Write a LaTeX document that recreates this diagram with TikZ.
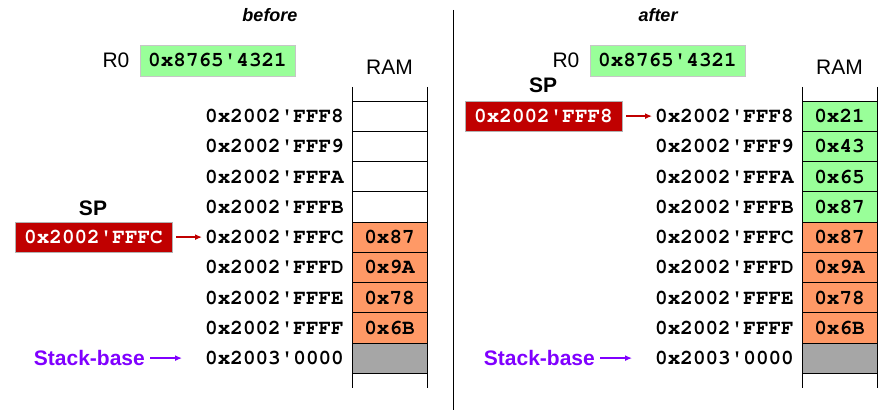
\documentclass[tikz,border=0pt]{standalone}
\usepackage[T1]{fontenc}
\usepackage{textcomp}
\usepackage{fontspec}
\setmainfont{Liberation Sans}
\usetikzlibrary{positioning,arrows.meta}

\definecolor{regGreen}{HTML}{99FF99}
\definecolor{stackOrange}{HTML}{FF9966}
\definecolor{spRed}{HTML}{C00000}
\definecolor{baseGray}{HTML}{A6A6A6}
\definecolor{basePurple}{HTML}{8000FF}

% Courier bold and a straight quote for the addresses
\newcommand{\courbf}{\fontencoding{T1}\fontfamily{pcr}\fontseries{b}\fontsize{21}{21}\selectfont}
\newcommand{\q}{\textquotesingle}

\tikzset{
  title/.style={font=\fontsize{18}{18}\selectfont\bfseries\itshape, inner sep=0pt},
  lbl/.style={font=\fontsize{21}{21}\selectfont, inner sep=0pt},
  spname/.style={font=\fontsize{21}{21}\selectfont\bfseries, inner sep=0pt},
  mono/.style={font=\courbf},
  addr/.style={mono, anchor=east, inner sep=0pt},
  reg/.style={mono, fill=regGreen, draw=gray!45, line width=0.8pt,
    minimum width=155pt, minimum height=31pt, inner sep=0pt},
  spbox/.style={mono, text=white, fill=spRed, draw=gray!60, line width=0.8pt,
    minimum width=157pt, minimum height=30pt, inner sep=0pt},
  cell/.style={mono, draw, line width=0.9pt, minimum width=75pt,
    minimum height=30.25pt, inner sep=0pt},
  base/.style={font=\fontsize{21}{21}\selectfont\bfseries, text=basePurple,
    anchor=east, inner sep=0pt},
  ptr/.style={-{Latex[length=7pt,width=6pt]}, line width=1.3pt},
}

\begin{document}
\begin{tikzpicture}[x=1pt, y=-1pt]
  \useasboundingbox (0,0) rectangle (894,417);

  % before
  \node[title] (tL) at (270,15) {before};
  \node[reg] (r0L) at (217.5,60.5) {0x8765\q4321};
  \node[lbl, left=10pt of r0L] (r0nameL) {R0};
  \node[lbl] (ramL) at (389.5,67) {RAM};
  \draw[line width=0.9pt] (352,87) -- (352,388) (427,87) -- (427,388);
  \foreach \ad/\val/\col [count=\i from 0] in {
      0x2002\q FFF8//white, 0x2002\q FFF9//white, 0x2002\q FFFA//white,
      0x2002\q FFFB//white, 0x2002\q FFFC/0x87/stackOrange,
      0x2002\q FFFD/0x9A/stackOrange, 0x2002\q FFFE/0x78/stackOrange,
      0x2002\q FFFF/0x6B/stackOrange, 0x2003\q 0000//baseGray}{
    \node[cell, fill=\col] (cL\i) at (389.5,116.1+30.25*\i) {\val};
    \node[addr] (aL\i) at (344,116.1+30.25*\i) {\ad};
  }
  \node[spname] (spnameL) at (93,208) {SP};
  \node[spbox] (spL) at (93.5,237.1) {0x2002\q FFFC};
  \draw[ptr, spRed, shorten <=4pt, shorten >=3pt] (spL) -- (aL4);
  \node[base] (sbL) at (145,358.1) {Stack-base};
  \draw[ptr, basePurple, shorten <=5pt, shorten >=23pt] (sbL) -- (aL8);

  \draw[line width=0.9pt] (453,10) -- (453,410);

  % after
  \node[title] (tR) at (658,15) {after};
  \node[reg] (r0R) at (667.5,60.5) {0x8765\q4321};
  \node[lbl, left=10pt of r0R] (r0nameR) {R0};
  \node[lbl] (ramR) at (839.5,67) {RAM};
  \draw[line width=0.9pt] (802,87) -- (802,388) (877,87) -- (877,388);
  \foreach \ad/\val/\col [count=\i from 0] in {
      0x2002\q FFF8/0x21/regGreen, 0x2002\q FFF9/0x43/regGreen,
      0x2002\q FFFA/0x65/regGreen, 0x2002\q FFFB/0x87/regGreen,
      0x2002\q FFFC/0x87/stackOrange, 0x2002\q FFFD/0x9A/stackOrange,
      0x2002\q FFFE/0x78/stackOrange, 0x2002\q FFFF/0x6B/stackOrange,
      0x2003\q 0000//baseGray}{
    \node[cell, fill=\col] (cR\i) at (839.5,116.1+30.25*\i) {\val};
    \node[addr] (aR\i) at (794,116.1+30.25*\i) {\ad};
  }
  \node[spname] (spnameR) at (543,85) {SP};
  \node[spbox] (spR) at (543.5,116.1) {0x2002\q FFF8};
  \draw[ptr, spRed, shorten <=4pt, shorten >=3pt] (spR) -- (aR0);
  \node[base] (sbR) at (595,358.1) {Stack-base};
  \draw[ptr, basePurple, shorten <=5pt, shorten >=23pt] (sbR) -- (aR8);
\end{tikzpicture}
\end{document}
